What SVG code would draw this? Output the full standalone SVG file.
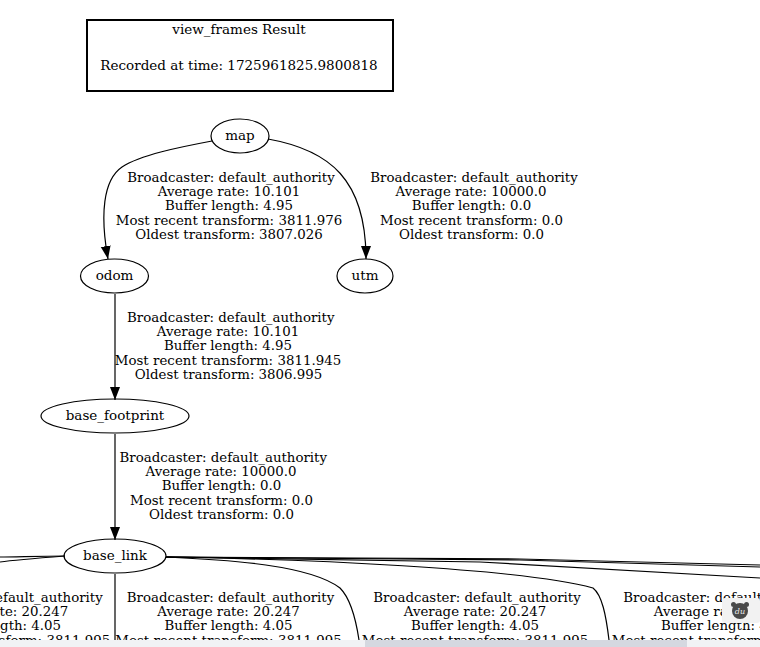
<svg xmlns="http://www.w3.org/2000/svg" width="760" height="647" viewBox="0 0 760 647">
<style>
text{font-family:"DejaVu Serif",serif;font-size:13.33px;fill:#000;text-anchor:middle}
.n{font-size:13.5px}
ellipse{fill:none;stroke:#000;stroke-width:1.2}
.e{fill:none;stroke:#000;stroke-width:1.2}
.a{marker-end:url(#arr)}
</style>
<defs><marker id="arr" markerUnits="userSpaceOnUse" markerWidth="14" markerHeight="12" refX="13" refY="5" orient="auto"><path d="M0 0L13 5L0 10Z" fill="#000"/></marker></defs>
<rect width="760" height="647" fill="#fff"/>
<g id="connectors">
<path class="e a" d="M212 141C180 147 140 155 122 167C103 180 100 215 108 259"/>
<path class="e a" d="M268 139C330 150 366 180 366 259"/>
<path class="e a" d="M115 294V400"/>
<path class="e a" d="M115 434V540"/>
<path class="e" d="M115 574V640"/>
<path class="e" d="M65 556C40 556 15 557 0 557"/>
<path class="e" d="M65 556C40 558 15 560 0 562"/>
<path class="e" d="M166 557C230 560 310 565 340 588C350 598 356 620 359 640"/>
<path class="e" d="M166 557C300 559 520 568 593 588C602 595 606 615 609 640"/>
<path class="e" d="M166 557L480 562L760 578"/>
<path class="e" d="M166 557L520 560L760 567"/>
<path class="e" d="M166 557L520 559L760 565"/>
</g>
<g id="title"><rect x="87" y="20" width="306" height="71" fill="none" stroke="#000" stroke-width="2"/>
<text class="n" x="239" y="34">view_frames Result</text><text class="n" x="239" y="70">Recorded at time: 1725961825.9800818</text></g>
<g id="map"><ellipse cx="240" cy="136" rx="29" ry="17"/><text class="n" x="240" y="140">map</text></g>
<g id="odom"><ellipse cx="114.500" cy="276" rx="34" ry="17"/><text class="n" x="114.500" y="280">odom</text></g>
<g id="utm"><ellipse cx="365" cy="276" rx="28" ry="17"/><text class="n" x="365" y="280">utm</text></g>
<g id="base_footprint"><ellipse cx="115" cy="416" rx="74" ry="17"/><text class="n" x="115" y="420">base_footprint</text></g>
<g id="base_link"><ellipse cx="115" cy="556" rx="51" ry="17"/><text class="n" x="115" y="560">base_link</text></g>
<g id="edge-labels">
<text x="231" y="182">Broadcaster: default_authority</text><text x="229" y="196">Average rate: 10.101</text><text x="229" y="210">Buffer length: 4.95</text><text x="229" y="225" textLength="226.600">Most recent transform: 3811.976</text><text x="229" y="239">Oldest transform: 3807.026</text>
<text x="474" y="182">Broadcaster: default_authority</text><text x="471" y="196">Average rate: 10000.0</text><text x="471.500" y="210">Buffer length: 0.0</text><text x="471.500" y="225">Most recent transform: 0.0</text><text x="471.500" y="239">Oldest transform: 0.0</text>
<text x="230.800" y="322">Broadcaster: default_authority</text><text x="228" y="336">Average rate: 10.101</text><text x="228" y="350">Buffer length: 4.95</text><text x="228" y="365" textLength="226.600">Most recent transform: 3811.945</text><text x="228.500" y="379">Oldest transform: 3806.995</text>
<text x="223.300" y="462">Broadcaster: default_authority</text><text x="221" y="476">Average rate: 10000.0</text><text x="221.500" y="490">Buffer length: 0.0</text><text x="221.500" y="505">Most recent transform: 0.0</text><text x="221.500" y="519">Oldest transform: 0.0</text>
<text x="-1" y="602">Broadcaster: default_authority</text><text x="-3" y="616">Average rate: 20.247</text><text x="-3" y="630">Buffer length: 4.05</text><text x="-3" y="645" textLength="226.600">Most recent transform: 3811.995</text>
<text x="230.500" y="602">Broadcaster: default_authority</text><text x="228.500" y="616">Average rate: 20.247</text><text x="228.500" y="630">Buffer length: 4.05</text><text x="228.500" y="645" textLength="226.600">Most recent transform: 3811.995</text>
<text x="477" y="602">Broadcaster: default_authority</text><text x="475" y="616">Average rate: 20.247</text><text x="475" y="630">Buffer length: 4.05</text><text x="475" y="645" textLength="226.600">Most recent transform: 3811.995</text>
<text x="727" y="602">Broadcaster: default_authority</text><text x="725" y="616">Average rate: 20.247</text><text x="725" y="630">Buffer length: 4.05</text><text x="725" y="645" textLength="226.600">Most recent transform: 3811.995</text>
</g>
<rect x="0" y="640" width="760" height="7" fill="#f1f2f5"/>
<rect x="365" y="640" width="322" height="7" fill="#d5d8e0"/>
<g id="badge"><rect x="722" y="598" width="38" height="25" rx="3" fill="#f2f2f2"/>
<circle cx="733.500" cy="604.500" r="2.500" fill="#4a4a4a"/><circle cx="746.500" cy="604.500" r="2.500" fill="#4a4a4a"/><ellipse cx="740" cy="611" rx="8" ry="8" style="fill:#4a4a4a;stroke:none"/>
<text x="740" y="614" style="font-size:8px;font-style:italic;fill:#eee">du</text></g>
</svg>
